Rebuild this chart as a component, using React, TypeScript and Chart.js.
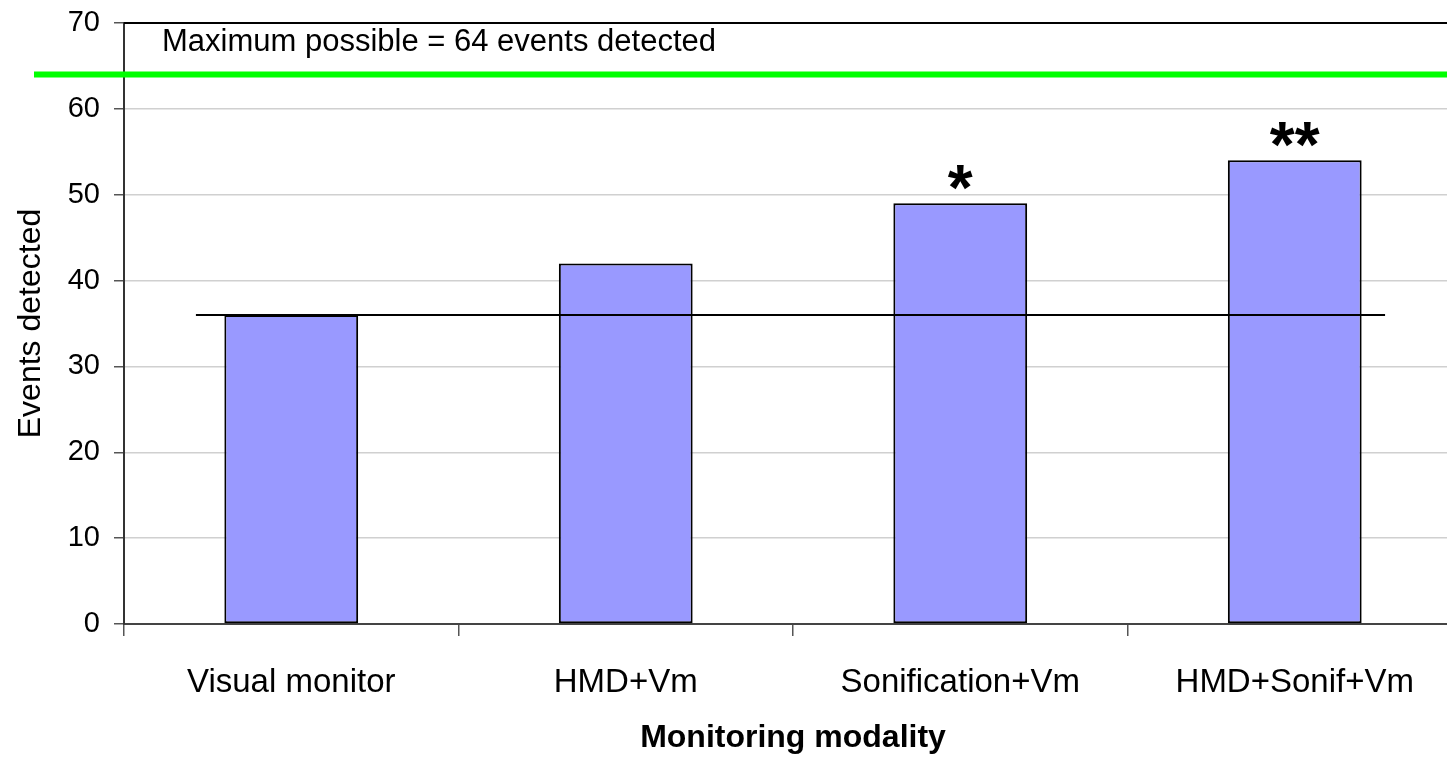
import React, { useEffect, useRef } from "react";
import { Chart, registerables } from "chart.js";

Chart.register(...registerables);

const categories = ["Visual monitor", "HMD+Vm", "Sonification+Vm", "HMD+Sonif+Vm"];
const eventsDetected = [36, 42, 49, 54];
const significance = ["", "", "*", "**"];
const yTicks = [0, 10, 20, 30, 40, 50, 60, 70];
const baselineValue = 36;
const baselineFrom = -0.285; // category index units
const baselineTo = 3.27;
const maxPossible = 64;
const maxLabel = "Maximum possible = 64 events detected";

const FONT = "'Liberation Sans', Arial, sans-serif";

export default function App() {
  const ref = useRef<HTMLCanvasElement | null>(null);

  useEffect(() => {
    document.body.style.margin = "0";
    document.body.style.overflow = "hidden";
    const canvas = ref.current!;

    const overlay = {
      id: "overlay",
      afterDatasetsDraw(chart: any) {
        const ctx = chart.ctx;
        const xs = chart.scales.x;
        const ys = chart.scales.y;
        const p0 = xs.getPixelForValue(0);
        const p1 = xs.getPixelForValue(1);
        const step = p1 - p0;
        ctx.save();
        ctx.strokeStyle = "#000";
        ctx.lineWidth = 2;
        const yb = ys.getPixelForValue(baselineValue);
        ctx.beginPath();
        ctx.moveTo(p0 + baselineFrom * step, yb);
        ctx.lineTo(p0 + baselineTo * step, yb);
        ctx.stroke();
        const meta = chart.getDatasetMeta(0);
        ctx.fillStyle = "#000";
        ctx.font = `bold 64px ${FONT}`;
        ctx.textAlign = "center";
        ctx.textBaseline = "alphabetic";
        significance.forEach((s, i) => {
          if (!s) return;
          const bar = meta.data[i];
          ctx.fillText(s, bar.x, bar.y + 7);
        });
        ctx.restore();
      },
      afterDraw(chart: any) {
        const ctx = chart.ctx;
        const ys = chart.scales.y;
        const area = chart.chartArea;
        ctx.save();
        ctx.strokeStyle = "#000";
        ctx.lineWidth = 2;
        ctx.beginPath();
        ctx.moveTo(area.left, area.top);
        ctx.lineTo(chart.width, area.top);
        ctx.stroke();
        const yg = ys.getPixelForValue(maxPossible);
        ctx.strokeStyle = "#00ff00";
        ctx.lineWidth = 6;
        ctx.beginPath();
        ctx.moveTo(34, yg);
        ctx.lineTo(chart.width, yg);
        ctx.stroke();
        ctx.fillStyle = "#000";
        ctx.font = `31px ${FONT}`;
        ctx.textAlign = "left";
        ctx.textBaseline = "middle";
        ctx.fillText(maxLabel, area.left + 38, ys.getPixelForValue(67.7));
        ctx.restore();
      },
    };

    const chart = new Chart(canvas, {
      type: "bar",
      data: {
        labels: categories,
        datasets: [
          {
            data: eventsDetected,
            backgroundColor: "#9999ff",
            borderColor: "#000",
            borderWidth: 2,
            borderSkipped: false,
            barPercentage: 0.8,
            categoryPercentage: 0.5,
          },
        ],
      },
      options: {
        animation: false,
        responsive: false,
        maintainAspectRatio: false,
        layout: { padding: { top: 23, left: 0, right: 0, bottom: 0 } },
        plugins: { legend: { display: false }, tooltip: { enabled: false } },
        scales: {
          x: {
            grid: {
              offset: true,
              drawOnChartArea: false,
              drawTicks: true,
              tickLength: 12,
              tickColor: "#555",
              lineWidth: 1.5,
            },
            border: { color: "#444", width: 2 },
            ticks: {
              color: "#000",
              font: { family: FONT, size: 33 },
              padding: 27,
              maxRotation: 0,
            },
            title: {
              display: true,
              text: "Monitoring modality",
              color: "#000",
              font: { family: FONT, size: 32, weight: "bold" },
              padding: { top: 0, bottom: 0 },
            },
            afterFit(scale: any) {
              scale.height = 133;
              scale.paddingLeft = 0;
              scale.paddingRight = 0;
            },
          },
          y: {
            min: 0,
            max: 70,
            afterBuildTicks(scale: any) {
              scale.ticks = yTicks.map((v) => ({ value: v }));
            },
            grid: {
              color: "#d0d0d0",
              lineWidth: 1.5,
              tickColor: "#555",
              tickLength: 10,
            },
            border: { color: "#333", width: 2 },
            ticks: {
              color: "#000",
              font: { family: FONT, size: 29 },
              padding: 14,
            },
            title: {
              display: true,
              text: "Events detected",
              color: "#000",
              font: { family: FONT, size: 32 },
              padding: { top: 12, bottom: 0 },
            },
            afterFit(scale: any) {
              scale.width = 124;
              scale.paddingTop = 0;
              scale.paddingBottom = 0;
            },
          },
        },
      },
      plugins: [overlay],
    });
    return () => chart.destroy();
  }, []);

  return (
    <div style={{ position: "absolute", left: 0, top: 0, width: 1462, height: 757 }}>
      <canvas ref={ref} width={1462} height={757} style={{ width: 1462, height: 757 }} />
    </div>
  );
}
